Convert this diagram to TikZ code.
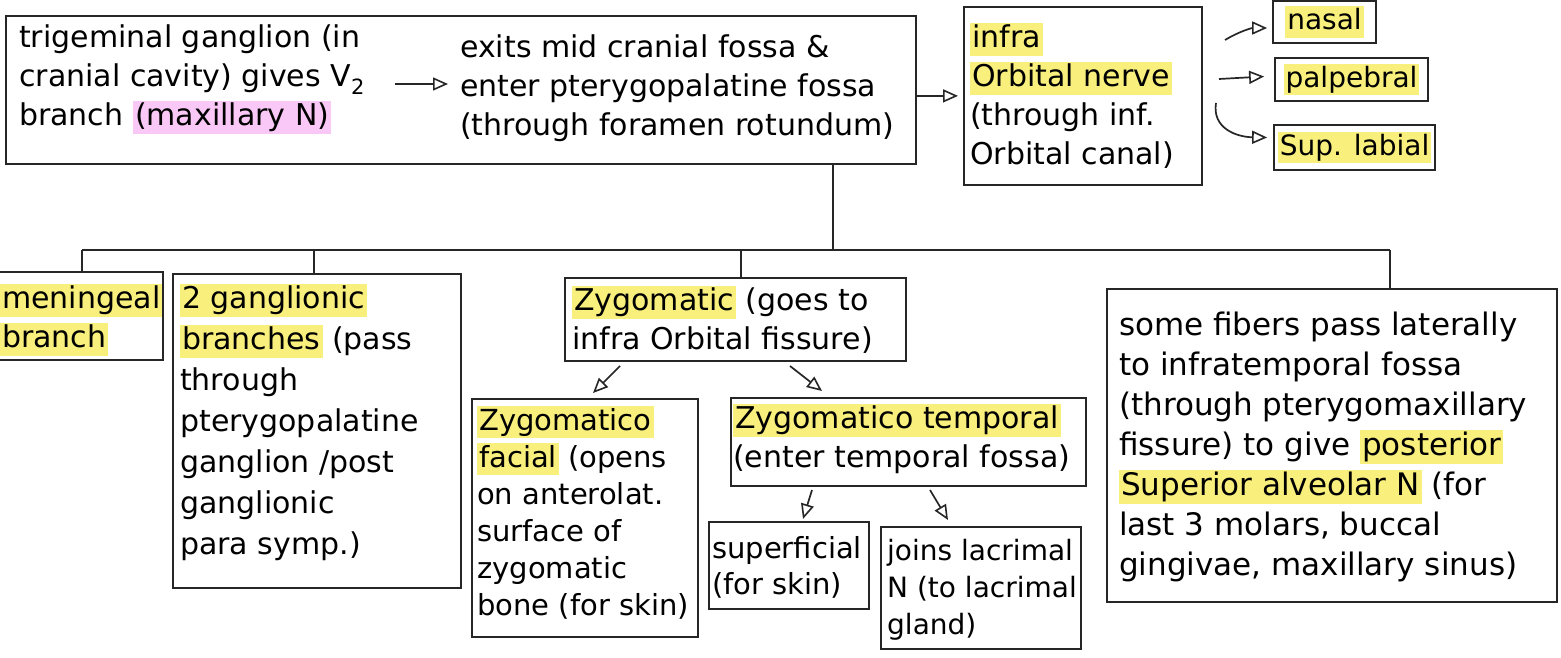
\documentclass[tikz,border=0pt]{standalone}
\usepackage{fontspec}
\setmainfont{DejaVu Sans}
\usetikzlibrary{arrows.meta,calc}
\definecolor{hly}{RGB}{248,239,125}
\definecolor{hlp}{RGB}{249,200,246}
\newcommand\hlY[1]{{\setlength\fboxsep{2pt}\colorbox{hly}{\vphantom{Ay}#1}}}
\newcommand\hlP[1]{{\setlength\fboxsep{2pt}\colorbox{hlp}{\vphantom{Ay}#1}}}
\begin{document}
\begin{tikzpicture}[x=1pt,y=-1pt,
  box/.style={draw=black!85,line width=1.8pt,anchor=north west,inner sep=0pt},
  sbox/.style={draw=black!85,line width=1.8pt,anchor=center,inner sep=0pt,font=\fontsize{28}{36}\selectfont},
  txt/.style={anchor=north west,inner sep=0pt,align=left,font=\fontsize{30}{39}\selectfont},
  arr/.style={-{Triangle[open,length=15pt,width=13pt,line width=1.6pt]},line width=1.7pt,draw=black!85},
  ln/.style={line width=1.8pt,draw=black!85}]
\useasboundingbox (0,0) rectangle (1561,658);
\fill[white] (0,0) rectangle (1561,658);
% boxes
\node[box,minimum width=910pt,minimum height=148pt] (A) at (5,15) {};
\node[box,minimum width=238pt,minimum height=178pt] (I) at (963,6) {};
\node[sbox,minimum width=103pt,minimum height=42pt] (N) at (1324.5,22) {\hlY{nasal}};
\node[sbox,minimum width=153pt,minimum height=43pt] (P) at (1351.5,79.5) {\hlY{palpebral}};
\node[sbox,minimum width=161pt,minimum height=45pt] (L) at (1354.5,147.5) {\hlY{Sup. labial}};
\node[box,minimum width=167pt,minimum height=88pt] (M) at (-5,271) {};
\node[box,minimum width=288pt,minimum height=314pt] (G) at (172,273) {};
\node[box,minimum width=341pt,minimum height=83pt] (Z) at (564,277) {};
\node[box,minimum width=226pt,minimum height=238pt] (ZF) at (471,398) {};
\node[box,minimum width=355pt,minimum height=88pt] (ZT) at (730,397) {};
\node[box,minimum width=160pt,minimum height=87pt] (S) at (708,521) {};
\node[box,minimum width=200pt,minimum height=122pt] (J) at (880,526) {};
\node[box,minimum width=450pt,minimum height=313pt] (R) at (1106,288) {};
% texts
\node[txt] (a1) at (19,25) {trigeminal ganglion (in\\cranial cavity) gives V\textsubscript{2}\\branch \hlP{(maxillary N)}};
\node[txt] (a2) at (460,35) {exits mid cranial fossa \&\\enter pterygopalatine fossa\\(through foramen rotundum)};
\node[txt] (it) at (970,23) {\hlY{infra}\\\hlY{Orbital nerve}\\(through inf.\\Orbital canal)};
\node[txt] (mt) at (0,284) {\hlY{meningeal}\\\hlY{branch}};
\node[txt,font=\fontsize{30}{41}\selectfont] (gt) at (180,284) {\hlY{2 ganglionic}\\\hlY{branches} (pass\\through\\pterygopalatine\\ganglion /post\\ganglionic\\para symp.)};
\node[txt] (zt) at (572,286) {\hlY{Zygomatic} (goes to\\infra Orbital fissure)};
\node[txt,font=\fontsize{29}{37}\selectfont] (zft) at (477,406) {\hlY{Zygomatico}\\\hlY{facial} (opens\\on anterolat.\\surface of\\zygomatic\\bone (for skin)};
\node[txt] (ztt) at (733,404) {\hlY{Zygomatico temporal}\\(enter temporal fossa)};
\node[txt,font=\fontsize{29}{36}\selectfont] (st) at (712,536) {superficial\\(for skin)};
\node[txt,font=\fontsize{28}{37}\selectfont] (jt) at (887,539) {joins lacrimal\\N (to lacrimal\\gland)};
\node[txt,font=\fontsize{31}{40}\selectfont] (rt) at (1119,312) {some fibers pass laterally\\to infratemporal fossa\\(through pterygomaxillary\\fissure) to give \hlY{posterior}\\\hlY{Superior alveolar N} (for\\last 3 molars, buccal\\gingivae, maxillary sinus)};
% connectors
\draw[arr] ([xshift=30pt]a1.east |- 0,84) -- ([xshift=-12pt]a2.west |- 0,84);
\draw[arr,shorten >=5pt] (A.east |- I.west) -- (I.west);
\coordinate (s1) at (1225,40);
\coordinate (s2) at (1219,79);
\coordinate (s3) at (1216,103);
\draw[arr] (s1) .. controls (1240,31) and (1252,28) .. ([shift={(-5,6)}]N.west);
\draw[arr] (s2) -- ([shift={(-10,-3)}]P.west);
\draw[arr] (s3) .. controls (1212,128) and (1236,137) .. ([shift={(-6,-10)}]L.west);
% tree
\coordinate (j) at (833,250);
\coordinate (jl) at (82,250);
\coordinate (jr) at (1390,250);
\draw[ln] (A.south -| j) -- (j);
\draw[ln] (jl) -- (jr);
\draw[ln] (jl) -- (M.north -| jl);
\draw[ln] (G.north -| 314,0) -- (314,250);
\draw[ln] (Z.north -| 741,0) -- (741,250);
\draw[ln] (jr) -- (R.north -| jr);
% zygomatic children
\coordinate (z1) at (620,366);
\coordinate (z2) at (790,366);
\draw[arr] (z1) -- ($(ZF.north -| 593,0)+(0,-5)$);
\draw[arr] (z2) -- ($(ZT.north -| 822,0)+(0,-6)$);
\coordinate (t1) at (812,490);
\coordinate (t2) at (930,490);
\draw[arr] (t1) -- ($(S.north -| 803,0)+(0,-2)$);
\draw[arr] (t2) -- ($(J.north -| 948,0)+(0,-6)$);
\end{tikzpicture}
\end{document}
